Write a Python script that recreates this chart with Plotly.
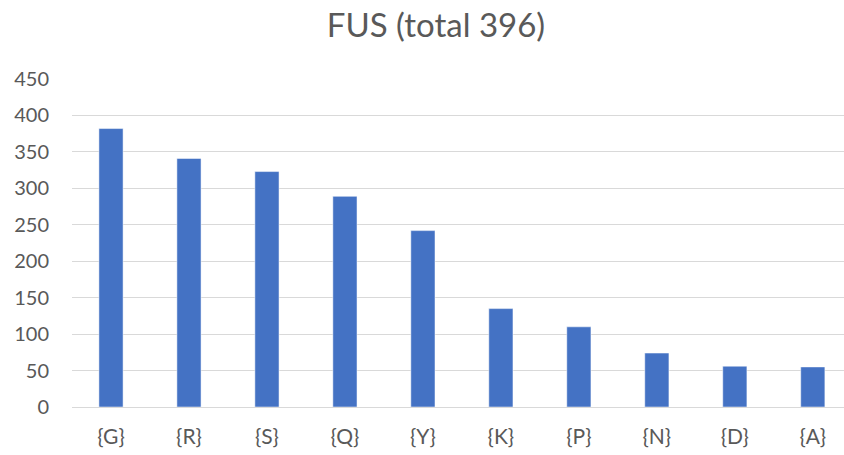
import plotly.graph_objects as go

categories = ["{G}", "{R}", "{S}", "{Q}", "{Y}", "{K}", "{P}", "{N}", "{D}", "{A}"]
counts = [382, 341, 323, 289, 242, 135, 110, 74, 56, 55]
title_text = "FUS (total 396)"
y_ticks = [0, 50, 100, 150, 200, 250, 300, 350, 400, 450]

fig = go.Figure(go.Bar(
    x=categories, y=counts,
    marker=dict(color="#4472C4", line=dict(color="#ffffff", width=0.5)),
    width=0.31,
))

font_family = "Lato, Open Sans, sans-serif"
fig.update_layout(
    width=844, height=455,
    margin=dict(l=72, r=0, t=79, b=48, autoexpand=False),
    plot_bgcolor="white", paper_bgcolor="white",
    title=dict(text=title_text, x=436/844, xanchor="center", y=1 - 25/455, yanchor="middle",
               font=dict(family=font_family, size=33, color="#595959")),
    showlegend=False,
    font=dict(family=font_family, color="#595959"),
)
fig.update_xaxes(
    range=[-0.5, 9.4], showgrid=False, showline=False, zeroline=False, automargin=False,
    tickfont=dict(size=21, color="#595959"), ticks="", ticklabelstandoff=15,
)
fig.update_yaxes(
    range=[0, 450], tickvals=y_ticks, showgrid=True, gridcolor="#D9D9D9", gridwidth=1.3,
    zeroline=True, zerolinecolor="#D9D9D9", zerolinewidth=1.3, showline=False, automargin=False,
    tickfont=dict(size=20, color="#595959"), ticks="", ticklabelstandoff=22,
)
fig.write_html("out.html", config={"displayModeBar": False},
               post_script="document.body.style.margin='0';document.body.style.overflow='hidden';")
